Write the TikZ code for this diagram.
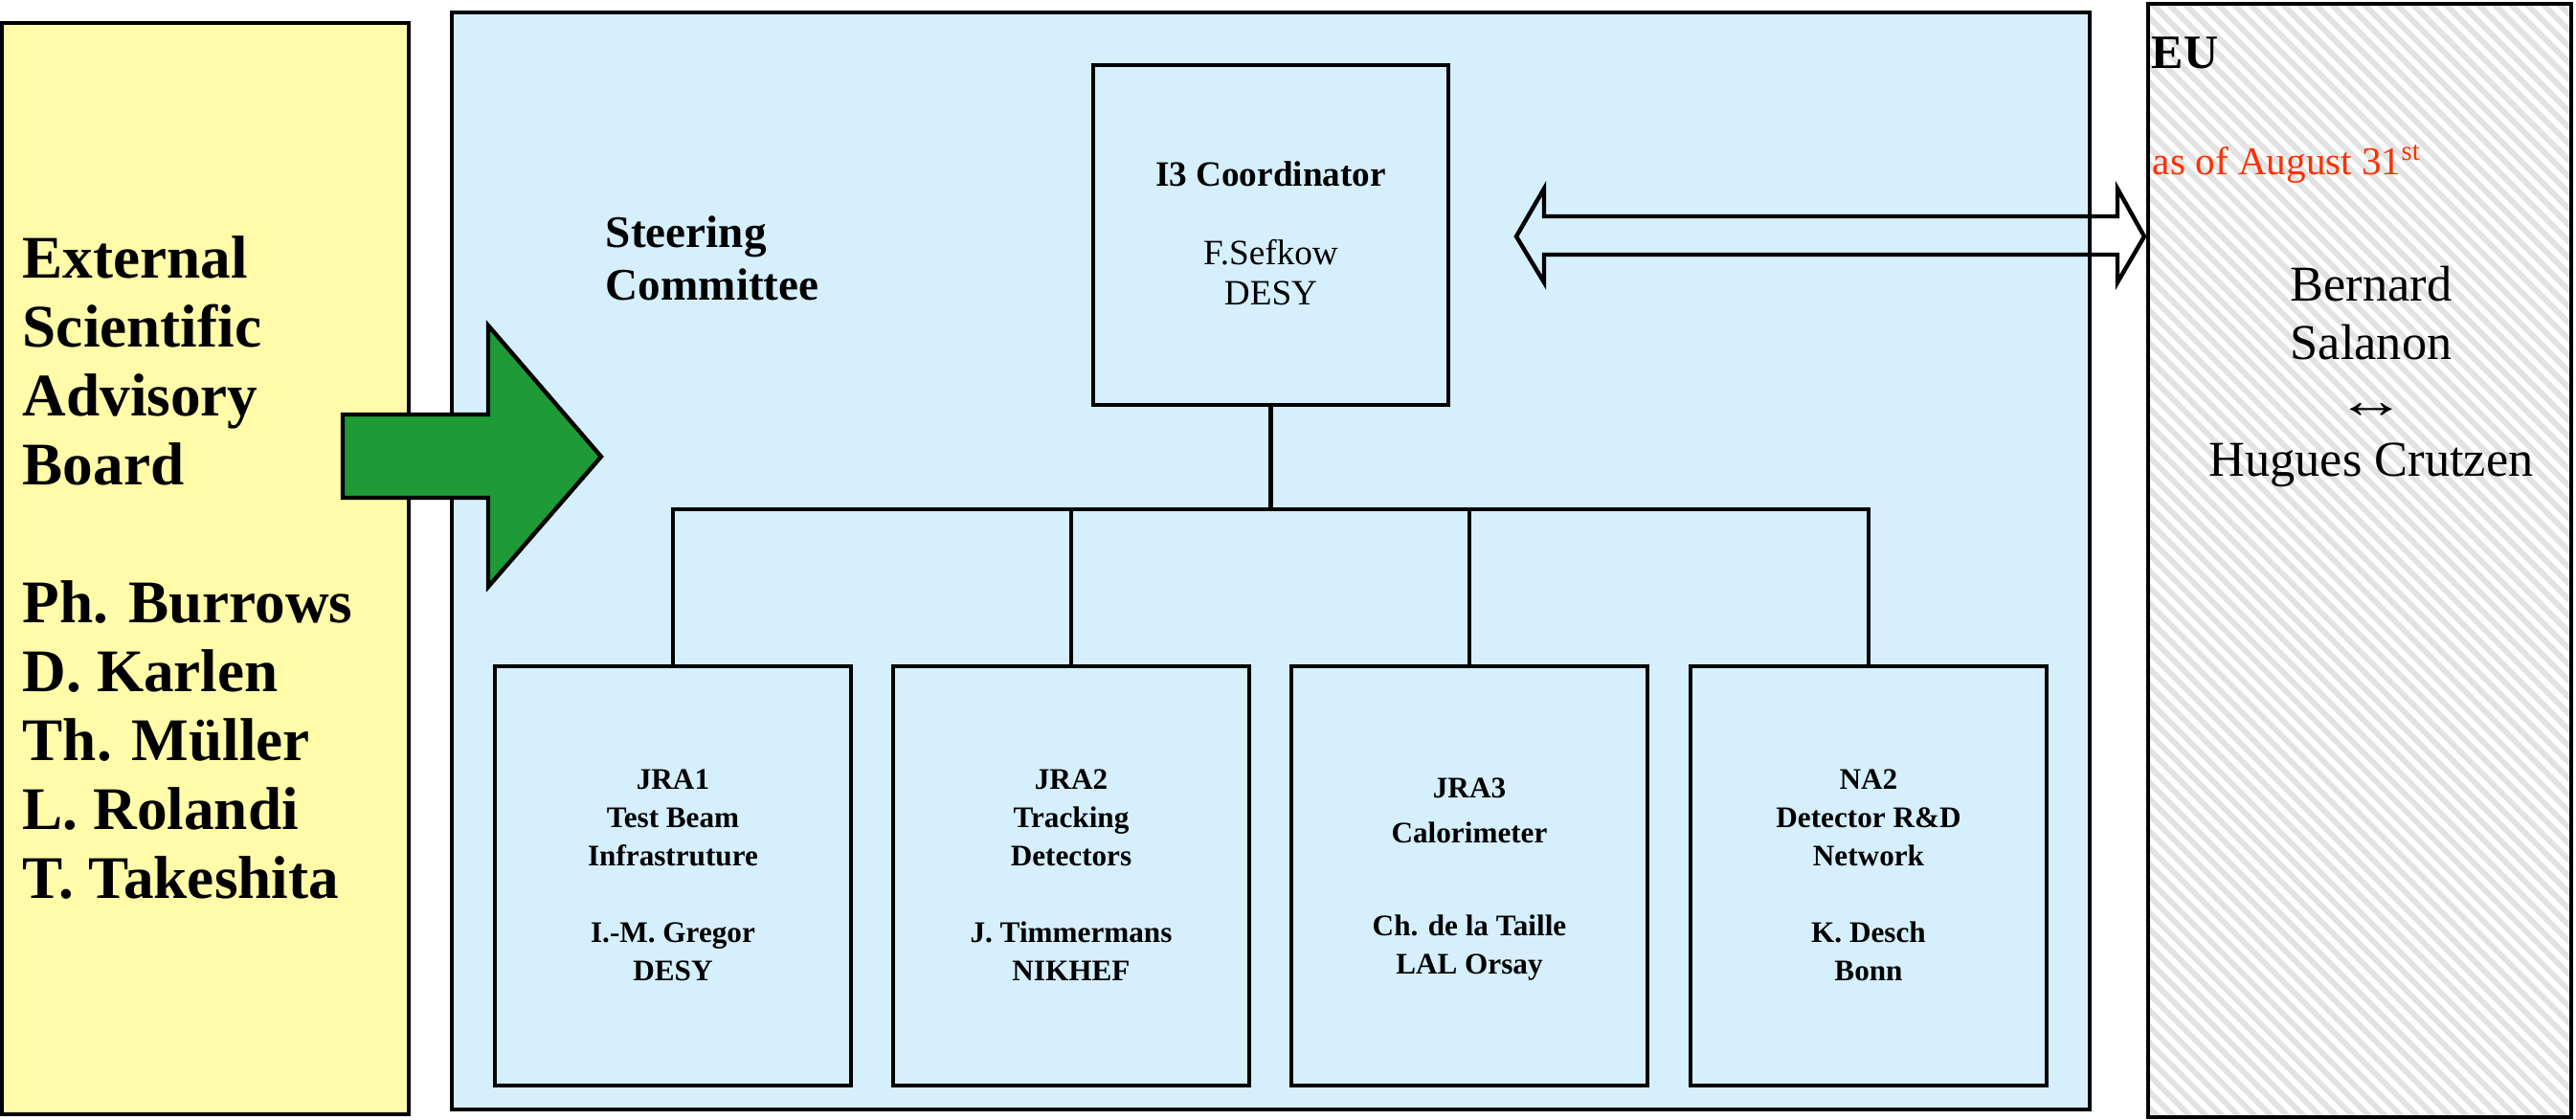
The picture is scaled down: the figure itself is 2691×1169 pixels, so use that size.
\documentclass[tikz,border=0pt]{standalone}
\usepackage{graphicx}
\usepackage{fontspec}
\setmainfont{Liberation Serif}
\definecolor{advyellow}{HTML}{FFFBA8}
\definecolor{steerblue}{HTML}{D5EFFD}
\definecolor{arrowgreen}{HTML}{1E9A36}
\definecolor{datered}{HTML}{FF2F00}
\definecolor{hatchgray}{HTML}{E2E2E2}
\begin{document}
\begin{tikzpicture}[x=0.25pt,y=-0.25pt,
  frame/.style={draw=black, line width=1.2pt, inner sep=0pt, outer sep=0pt, anchor=north west},
  wpbox/.style={frame, fill=steerblue, minimum width=93pt, minimum height=109.5pt},
  wptext/.style={align=center, anchor=base, inner sep=0pt, font=\fontsize{7.8pt}{10pt}\selectfont\bfseries},
  link/.style={draw=black, line width=1.2pt, line cap=rect},
  bigarrow/.style={draw=black, line width=1.1pt, line join=miter}]
\useasboundingbox (0,0) rectangle (2691,1169);

% main panels
\node[frame, fill=advyellow, minimum width=106.25pt, minimum height=285pt] (esab) at (2,24) {};
\node[frame, fill=steerblue, minimum width=427.75pt, minimum height=286.5pt] (sc) at (472,13) {};

% EU panel with hatching
\node[frame, draw=none, fill=white, minimum width=110.5pt, minimum height=290.75pt] (eu) at (2244,4) {};
\begin{scope}
  \clip (eu.north west) rectangle (eu.south east);
  \foreach \k in {0,...,100} {
    \draw[hatchgray, line width=1.5pt] (1000+\k*17,-20) -- ++(1300,1300);
  }
\end{scope}
\draw[line width=1.2pt] (eu.north west) rectangle (eu.south east);

% coordinator and work packages
\node[frame, fill=steerblue, minimum width=92.75pt, minimum height=88.75pt] (i3) at (1142,68) {};
\node[wpbox] (jra1) at (517,696) {};
\node[wpbox] (jra2) at (933,696) {};
\node[wpbox] (jra3) at (1349,696) {};
\node[wpbox] (na2) at (1766,696) {};

% connectors
\coordinate (bus) at (1327.5,532);
\draw[link] (i3.south) -- (bus);
\draw[link] (bus -| jra1.north) -- (bus -| na2.north);
\foreach \b in {jra1,jra2,jra3,na2} {
  \draw[link] (bus -| \b.north) -- (\b.north);
}

% texts (anchor base = baseline of the last line)
\node[anchor=base west, align=left, inner sep=0pt, font=\fontsize{15.8pt}{18pt}\selectfont\bfseries] (esabtext) at (23,938)
  {External\\Scientific\\Advisory\\Board\\[18pt]Ph. Burrows\\D. Karlen\\Th. Müller\\L. Rolandi\\T. Takeshita};
\node[anchor=base west, align=left, inner sep=0pt, font=\fontsize{11.8pt}{13.75pt}\selectfont\bfseries] (sctext) at (632,313)
  {Steering\\Committee};
\node[anchor=base, align=center, inner sep=0pt, font=\fontsize{9.3pt}{10.5pt}\selectfont] (i3text) at (1327.5,318)
  {{\bfseries I3 Coordinator}\\[10pt]F.Sefkow\\DESY};
\node[wptext] (jra1text) at (703,1024) {JRA1\\Test Beam\\Infrastruture\\[10pt]I.-M. Gregor\\DESY};
\node[wptext] (jra2text) at (1119,1024) {JRA2\\Tracking\\Detectors\\[10pt]J. Timmermans\\NIKHEF};
\node[wptext] (jra3text) at (1535,1017) {JRA3\\[1.75pt]Calorimeter\\[14.25pt]Ch. de la Taille\\LAL Orsay};
\node[wptext] (na2text) at (1952,1024) {NA2\\Detector R\&D\\Network\\[10pt]K. Desch\\Bonn};

\node[anchor=base west, inner sep=0pt, font=\fontsize{12.5pt}{15pt}\selectfont\bfseries] (eulabel) at (2247,71) {EU};
\node[anchor=base west, inner sep=0pt, text=datered, font=\fontsize{10.3pt}{12pt}\selectfont] (asof) at (2248,182)
  {as of August 31\textsuperscript{st}};
\node[anchor=base, align=center, inner sep=0pt, font=\fontsize{13.1pt}{15.25pt}\selectfont] (contacts) at (2477,497)
  {Bernard\\Salanon\\\scalebox{1.4}[1]{↔}\\Hugues Crutzen};

% block arrows
\draw[bigarrow, fill=arrowgreen] (358,433) -- (510,433) -- (510,340) -- (628,477) -- (510,613) -- (510,520) -- (358,520) -- cycle;
\draw[bigarrow] (1584,247) -- (1613,197) -- (1613,226) -- (2212,226) -- (2212,197) -- (2240,247)
  -- (2212,295) -- (2212,266) -- (1613,266) -- (1613,295) -- cycle;
\end{tikzpicture}
\end{document}
